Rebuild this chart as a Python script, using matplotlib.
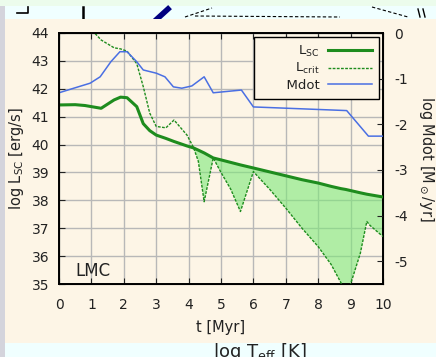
import matplotlib.pyplot as plt
import matplotlib.patches as mpatches
import matplotlib.lines as mlines
import numpy as np

plt.rcParams['axes.unicode_minus'] = False
plt.rcParams['font.family'] = 'DejaVu Sans'

# time grid shared by L_SC and L_crit [Myr]
t_L = [0, 0.5, 0.8, 1.1, 1.3, 1.7, 1.9, 2.1, 2.4, 2.6, 2.8, 3.0, 3.3, 3.55,
       3.95, 4.15, 4.3, 4.48, 4.76, 5.0, 5.3, 5.6, 6.0, 6.5, 7.0, 7.5, 8.0,
       8.4, 8.7, 8.85, 9.0, 9.3, 9.5, 9.6, 10]
L_sc = [41.42, 41.43, 41.40, 41.34, 41.30, 41.60, 41.70, 41.68, 41.36, 40.75,
        40.50, 40.34, 40.22, 40.11, 39.95, 39.88, 39.80, 39.70, 39.52, 39.45,
        39.36, 39.27, 39.16, 39.02, 38.88, 38.74, 38.62, 38.50, 38.42, 38.39,
        38.35, 38.27, 38.22, 38.20, 38.12]
L_crit = [45.2, 44.8, 44.4, 44.0, 43.75, 43.47, 43.43, 43.35, 42.90, 42.08,
          41.13, 40.65, 40.60, 40.88, 40.34, 39.90, 39.40, 37.95, 39.52, 39.00,
          38.40, 37.60, 39.03, 38.40, 37.72, 37.00, 36.34, 35.70, 35.05, 34.60,
          35.00, 36.10, 37.24, 37.10, 36.70]

# mass loss rate, log Msun/yr
t_M = [0, 0.5, 0.96, 1.27, 1.6, 1.88, 2.1, 2.4, 2.6, 3.0, 3.27, 3.53, 3.79,
       4.1, 4.48, 4.76, 5.63, 6.0, 8.88, 9.55, 10]
Mdot = [-1.31, -1.20, -1.10, -0.96, -0.63, -0.41, -0.41, -0.63, -0.81, -0.88,
        -0.96, -1.18, -1.21, -1.16, -0.96, -1.31, -1.25, -1.62, -1.70, -2.26,
        -2.26]

cream = '#fdf5e6'
ink = '#222222'
fig = plt.figure(figsize=(4.36, 3.57), dpi=100)
fig.patch.set_facecolor('#f0ffff')

# surrounding page bits
def fx(px):
    return px / 436

def fy(py):
    return 1 - py / 357

fig.patches.append(mpatches.Rectangle((0, fy(6)), 1, 6/357, transform=fig.transFigure,
                                      facecolor='#ecfcec', edgecolor='none', zorder=-5))
fig.patches.append(mpatches.Rectangle((0, 0), fx(5), fy(6), transform=fig.transFigure,
                                      facecolor='#d4d4dc', edgecolor='none', zorder=-5))
fig.patches.append(mpatches.Rectangle((fx(5), fy(343)), 1, fy(19) - fy(343),
                                      transform=fig.transFigure, facecolor=cream,
                                      edgecolor='none', zorder=-2))
fig.text(fx(260), fy(363), 'log T$_{\\rm eff}$ [K]', fontsize=13, ha='center', va='bottom',
         color=ink, zorder=-3)
fig.add_artist(mlines.Line2D([fx(17), fx(28), fx(28)], [fy(13), fy(13), fy(7)],
                             color='black', lw=1.2, zorder=-3))
fig.add_artist(mlines.Line2D([fx(83), fx(83)], [fy(19), fy(7)],
                             color='black', lw=1.8, zorder=-3))
fig.add_artist(mlines.Line2D([fx(157), fx(168)], [fy(19), fy(9)],
                             color='#000080', lw=4, zorder=-3))
fig.add_artist(mlines.Line2D([fx(185), fx(212)], [fy(17), fy(8)],
                             color='black', lw=0.8, ls=(0, (3, 2)), zorder=-3))
fig.add_artist(mlines.Line2D([fx(195), fx(340)], [fy(16), fy(17)],
                             color='black', lw=0.8, ls=(0, (3, 2)), zorder=-3))
fig.add_artist(mlines.Line2D([fx(372), fx(408)], [fy(7), fy(17)],
                             color='black', lw=0.8, ls=(0, (3, 2)), zorder=-3))
fig.add_artist(mlines.Line2D([fx(418), fx(420)], [fy(9), fy(17)],
                             color='black', lw=1, zorder=-3))
fig.add_artist(mlines.Line2D([fx(423), fx(425)], [fy(9), fy(17)],
                             color='black', lw=1, zorder=-3))

ax = fig.add_axes([fx(59), 73/357, 324/436, 251/357])
ax.set_facecolor(cream)
ax.fill_between(t_L, L_sc, L_crit, where=np.array(L_crit) < np.array(L_sc),
                interpolate=True, color='#7ee87a', alpha=0.6, lw=0, zorder=2)
l1, = ax.plot(t_L, L_sc, color='#1e8c1e', lw=2.2, zorder=4, label='      L$_{\\rm SC}$')
l2, = ax.plot(t_L, L_crit, color='#1e8c1e', lw=1.0, ls=(0, (2, 1)), zorder=4,
              label='      L$_{\\rm crit}$')
ax.set_xlim(0, 10)
ax.set_ylim(35, 44)
ax.set_xticks(range(0, 11))
ax.set_yticks(range(35, 45))
ax.grid(True, color='#b8b8b8', lw=1)
ax.set_axisbelow(True)
ax.tick_params(direction='in', top=True, labelsize=10, colors=ink, length=4)
ax.tick_params(axis='x', pad=10)
ax.tick_params(axis='y', pad=7)
ax.set_xlabel('t [Myr]', fontsize=10.5, color=ink, labelpad=6)
ax.set_ylabel('log L$_{\\rm SC}$ [erg/s]', fontsize=10.5, color=ink, labelpad=4)
for s in ax.spines.values():
    s.set_linewidth(1.4)
ax.text(0.5, 35.3, 'LMC', fontsize=12, color=ink, zorder=6)

ax2 = ax.twinx()
l3, = ax2.plot(t_M, Mdot, color='#4a6fe3', lw=1.1, label='      Mdot')
ax2.set_ylim(-5.5, 0)
ax2.set_yticks(range(-5, 1))
ax2.tick_params(direction='in', labelsize=10, colors=ink, length=4, pad=8)
ax2.set_ylabel('log Mdot [M$_\\odot$/yr]', fontsize=10.5, color=ink,
               rotation=-90, labelpad=20)

leg = ax2.legend(handles=[l1, l2, l3], loc='upper right', markerfirst=False,
                 fontsize=9.5, fancybox=False, framealpha=1, facecolor=cream,
                 edgecolor='black', handlelength=3.4, handletextpad=0.6,
                 borderaxespad=0.3, labelspacing=0.2, borderpad=0.5)
leg.get_frame().set_linewidth(1)
for txt in leg.get_texts():
    txt.set_color(ink)

fig.savefig('out.png', dpi=100)
